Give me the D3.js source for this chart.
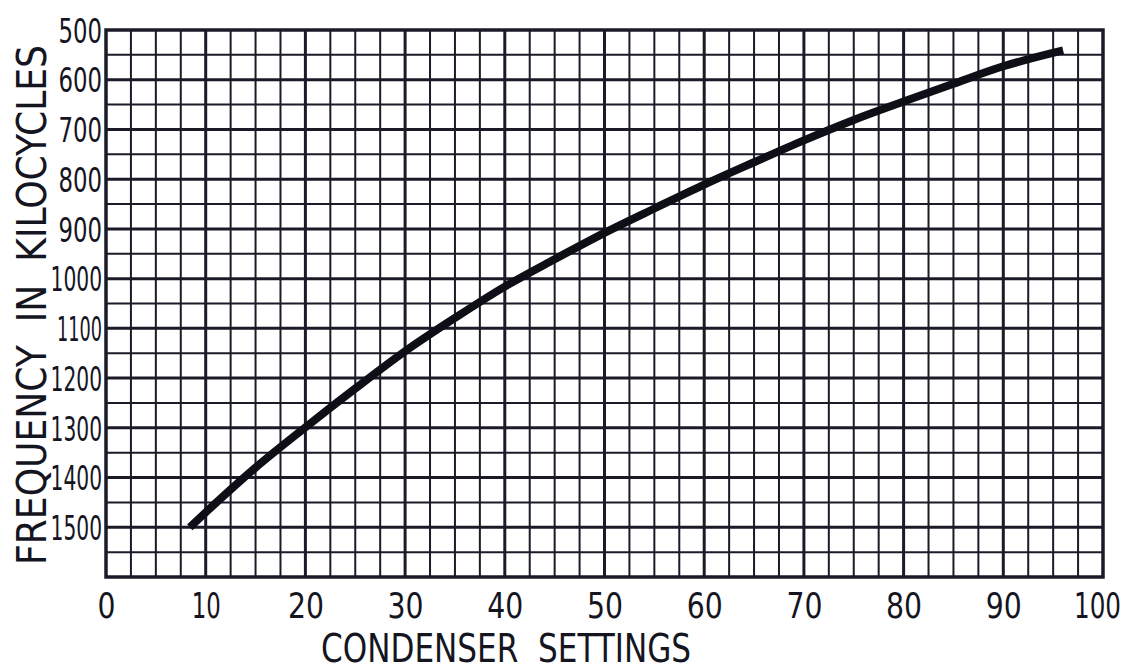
<!DOCTYPE html>
<html>
<head>
<meta charset="utf-8">
<script src="https://cdn.jsdelivr.net/npm/d3@7"></script>
<style>
  html, body { margin: 0; padding: 0; background: #ffffff; }
  svg { display: block; }
  .lbl { font-family: "DejaVu Sans Condensed", "Liberation Sans", Arial, sans-serif; fill: #15151f; white-space: pre; }
</style>
</head>
<body>
<svg id="chart" width="1138" height="670"></svg>
<script>
// Calibration curve of the tuning condenser: dial setting vs. frequency (kc)
const settings    = [8.4, 10, 15, 20, 25, 30, 35, 40, 45, 50, 55, 60, 65, 70, 75, 80, 85, 90, 96];
const frequencies = [1500, 1470, 1380, 1299, 1221, 1146, 1079, 1016, 961, 908, 859, 811, 766, 722, 681, 644, 608, 573, 541];

const xTicks = [0, 10, 20, 30, 40, 50, 60, 70, 80, 90, 100];
const yTicks = [500, 600, 700, 800, 900, 1000, 1100, 1200, 1300, 1400, 1500];

const svg = d3.select("#chart");
const ink = "#1b1b28";

const x = d3.scaleLinear().domain([0, 100]).range([106, 1103]);
const y = d3.scaleLinear().domain([500, 1600]).range([30, 577]);

// hand-lettered numerals are narrow, with a slim "1"
const numWidth = (s, w, one) => [...s].reduce((a, c) => a + (c === "1" ? one : w), 0);

// graph-paper grid: fine rules every 2.5 units / 50 kc, heavier on the decades / hundreds
const grid = svg.append("g");
grid.selectAll("line.v")
  .data(d3.range(2.5, 100, 2.5))
  .join("line")
  .attr("x1", d => x(d)).attr("x2", d => x(d))
  .attr("y1", y(500)).attr("y2", y(1600))
  .attr("stroke", ink)
  .attr("stroke-width", d => (d % 10 === 0 ? 3 : 2));
grid.selectAll("line.h")
  .data(d3.range(550, 1600, 50))
  .join("line")
  .attr("y1", d => y(d)).attr("y2", d => y(d))
  .attr("x1", x(0)).attr("x2", x(100))
  .attr("stroke", ink)
  .attr("stroke-width", d => (d % 100 === 0 ? 3 : 2));

// frame
svg.append("rect")
  .attr("x", x(0)).attr("y", y(500))
  .attr("width", x(100) - x(0)).attr("height", y(1600) - y(500))
  .attr("fill", "none").attr("stroke", ink).attr("stroke-width", 3.5);

// calibration curve
const line = d3.line()
  .x((d, i) => x(settings[i]))
  .y(d => y(d))
  .curve(d3.curveMonotoneX);
svg.append("path")
  .attr("d", line(frequencies))
  .attr("fill", "none")
  .attr("stroke", "#0e0e16")
  .attr("stroke-width", 8)
  .attr("stroke-linecap", "butt");

// axes (labels only)
const yAxis = svg.append("g")
  .attr("transform", `translate(${x(0)},0)`)
  .call(d3.axisLeft(y).tickValues(yTicks).tickSize(0).tickPadding(4).tickFormat(d3.format("d")));
yAxis.select(".domain").remove();
yAxis.selectAll("text")
  .attr("class", "lbl").attr("font-size", 34).attr("dy", "0.36em")
  .attr("textLength", d => numWidth(String(d), 14.5, 8))
  .attr("lengthAdjust", "spacingAndGlyphs");

const xAxis = svg.append("g")
  .attr("transform", `translate(0,${y(1600)})`)
  .call(d3.axisBottom(x).tickValues(xTicks).tickSize(0).tickPadding(15).tickFormat(d3.format("d")));
xAxis.select(".domain").remove();
xAxis.selectAll("text")
  .attr("class", "lbl").attr("font-size", 36).attr("dy", "0.71em")
  .attr("dx", d => (d === 100 ? -6 : 0))
  .attr("textLength", d => numWidth(String(d), 18, 11))
  .attr("lengthAdjust", "spacingAndGlyphs");

// axis titles
svg.append("text")
  .attr("class", "lbl")
  .attr("transform", `translate(46,305) rotate(-90)`)
  .attr("text-anchor", "middle")
  .attr("font-size", 41)
  .attr("textLength", 520)
  .attr("lengthAdjust", "spacingAndGlyphs")
  .text("FREQUENCY  IN  KILOCYCLES");

svg.append("text")
  .attr("class", "lbl")
  .attr("x", 506).attr("y", 662)
  .attr("text-anchor", "middle")
  .attr("font-size", 39)
  .attr("textLength", 370)
  .attr("lengthAdjust", "spacingAndGlyphs")
  .text("CONDENSER  SETTINGS");
</script>
</body>
</html>
